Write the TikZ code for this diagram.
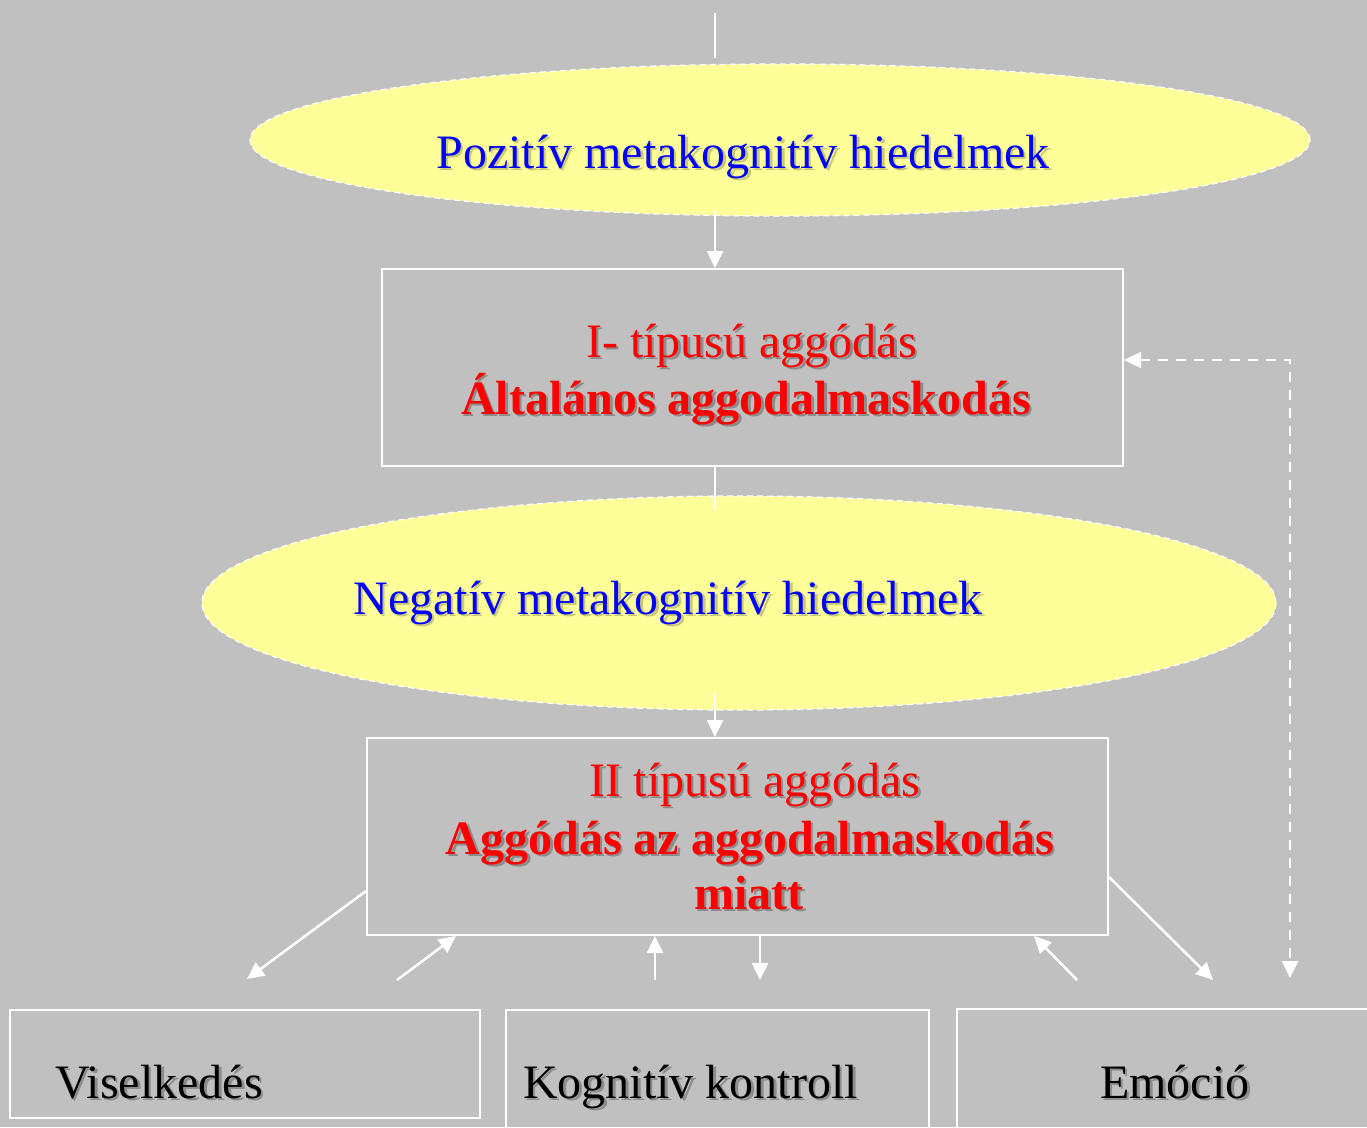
\documentclass[tikz,border=0pt]{standalone}
\usepackage{fontspec}
\setmainfont{Liberation Serif}
\usetikzlibrary{arrows.meta,shapes.geometric,calc}
\definecolor{bgc}{RGB}{192,192,192}
\definecolor{ellc}{RGB}{255,255,153}
\definecolor{shadowc}{RGB}{140,140,140}
\definecolor{shadowy}{RGB}{200,200,120}
\definecolor{bluec}{RGB}{0,0,255}
\definecolor{redc}{RGB}{255,0,0}
\newcommand{\shd}[3][shadowc]{\leavevmode\rlap{\kern2.5pt\raisebox{-2.5pt}{\color{#1}#3}}{\color{#2}#3}}
\begin{document}
\begin{tikzpicture}[x=1pt,y=-1pt,
  txt/.style={font=\fontsize{48}{57}\selectfont, inner sep=0pt, anchor=base},
  txtw/.style={font=\fontsize{48}{57}\selectfont, inner sep=0pt, anchor=base west},
  ell/.style={ellipse, fill=ellc, draw=white, line width=1.3pt, dash pattern=on 6pt off 4pt, inner sep=0pt},
  box/.style={rectangle, draw=white, line width=2pt, inner sep=0pt},
  arr/.style={draw=white, line width=2.5pt, -{Triangle[length=17pt,width=16pt]}},
  ln/.style={draw=white, line width=2.5pt},
  darr/.style={draw=white, line width=2.5pt, dash pattern=on 10pt off 8pt, {Triangle[length=17pt,width=16pt]}-{Triangle[length=17pt,width=16pt]}}
]
\useasboundingbox (0,0) rectangle (1367,1127);
\clip (0,0) rectangle (1367,1127);
\fill[bgc] (0,0) rectangle (1367,1127);

% ellipses
\node[ell, minimum width=1060pt, minimum height=152pt] (e1) at (780,140) {};
\node[ell, minimum width=1074pt, minimum height=214pt] (e2) at (739,603) {};

% boxes
\node[box, minimum width=741pt, minimum height=197pt] (b1) at (752.5,367.5) {};
\node[box, minimum width=741pt, minimum height=197pt] (b2) at (737.5,836.5) {};
\node[box, minimum width=470pt, minimum height=108pt] (bv) at (245,1064) {};
\node[box, minimum width=423pt, minimum height=140pt] (bk) at (717.5,1080) {};
\node[box, minimum width=430pt, minimum height=140pt] (be) at (1172,1079) {};

% texts
\node[txt] (t1) at (743,168) {\shd[shadowy]{bluec}{Pozitív metakognitív hiedelmek}};
\node[txt] (t2) at (751.5,357) {\shd{redc}{I- típusú aggódás}};
\node[txt] (t3) at (746,414) {\shd{redc}{\bfseries Általános aggodalmaskodás}};
\node[txt] (t4) at (668,614) {\shd[shadowy]{bluec}{Negatív metakognitív hiedelmek}};
\node[txt] (t5) at (755,796) {\shd{redc}{II típusú aggódás}};
\node[txt] (t6) at (750,854) {\shd{redc}{\bfseries Aggódás az aggodalmaskodás}};
\node[txt] (t7) at (749,909) {\shd{redc}{\bfseries miatt}};
\node[txtw] (tv) at (55,1098) {\shd{black}{Viselkedés}};
\node[txtw] (tk) at (523,1098) {\shd{black}{Kognitív kontroll}};
\node[txtw] (te) at (1100,1098) {\shd{black}{Emóció}};

% coordinates
\coordinate (cx) at (715,0);
\coordinate (top1) at (715,13);
\coordinate (top2) at (715,58);
\coordinate (f1) at (247,979);
\coordinate (f2) at (397,980);
\coordinate (f3) at (655,980);
\coordinate (f4) at (760,980);
\coordinate (f5) at (1077,980);
\coordinate (f6) at (1213,980);
\coordinate (dc) at (1290,360);
\coordinate (dend) at (1290,978);

% connectors
\draw[ln] (top1) -- (top2);
\draw[arr] ([yshift=6pt]cx |- e1.south) -- (cx |- b1.north);
\draw[ln] (cx |- b1.south) -- ([yshift=-15pt]cx |- e2.north);
\draw[arr] ([yshift=18pt]cx |- e2.south) -- (cx |- b2.north);

\draw[arr] ([yshift=45pt]b2.south west) -- (f1);
\draw[arr] (f2) -- ([xshift=90pt]b2.south west);
\draw[arr] (f3) -- (f3 |- b2.south);
\draw[arr] (f4 |- b2.south) -- (f4);
\draw[arr] (f5) -- ([xshift=-75pt]b2.south east);
\draw[arr] ([yshift=59pt]b2.south east) -- (f6);
\draw[darr] (b1.east |- dc) -- (dc) -- (dend);
\end{tikzpicture}
\end{document}
